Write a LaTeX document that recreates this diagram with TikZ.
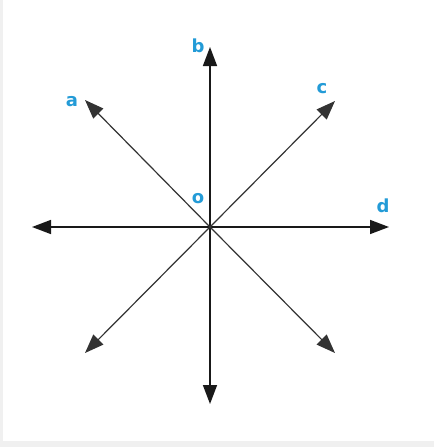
\documentclass[tikz,border=0pt]{standalone}
\usepackage{fontspec}
\setsansfont{DejaVu Sans}
\usepackage{xcolor}
\usepackage{tikz}
\usetikzlibrary{positioning, arrows.meta}
\definecolor{lblblue}{RGB}{35,155,215}
\definecolor{pagegray}{RGB}{240,240,240}

\begin{document}
\begin{tikzpicture}[
    x=1pt, y=-1pt,
    ray/.style={-{Triangle[length=19pt, width=14pt]}, line width=1.5pt, black!90},
    diag/.style={-{Triangle[length=19pt, width=14pt]}, line width=1.2pt, black!80},
    lbl/.style={inner sep=0pt, text=lblblue, font=\fontsize{18}{18}\selectfont\sffamily\bfseries}
]
    % page and frame
    \fill[pagegray] (0, 0) rectangle (434, 447);
    \fill[white] (3, 0) rectangle (434, 441);
    \useasboundingbox (0, 0) rectangle (434, 447);
    % centre and ends
    \coordinate (O) at (210, 227);
    \coordinate (N) at (210, 47);
    \coordinate (S) at (210, 404);
    \coordinate (W) at (32, 227);
    \coordinate (E) at (389, 227);
    \coordinate (NW) at (85, 100);
    \coordinate (NE) at (335, 101);
    \coordinate (SW) at (85, 353);
    \coordinate (SE) at (335, 353);
    % rays
    \draw[ray] (O) -- (N);
    \draw[ray] (O) -- (S);
    \draw[ray] (O) -- (W);
    \draw[ray] (O) -- (E);
    \draw[diag] (O) -- (NW);
    \draw[diag] (O) -- (NE);
    \draw[diag] (O) -- (SW);
    \draw[diag] (O) -- (SE);
    % labels
    \node[lbl] (lo) at (198, 199) {o};
    \node[lbl] (lb) at (198, 46) {b};
    \node[lbl] (la) at (72, 102) {a};
    \node[lbl] (lc) at (322, 89) {c};
    \node[lbl] (ld) at (383, 206) {d};
\end{tikzpicture}
\end{document}
